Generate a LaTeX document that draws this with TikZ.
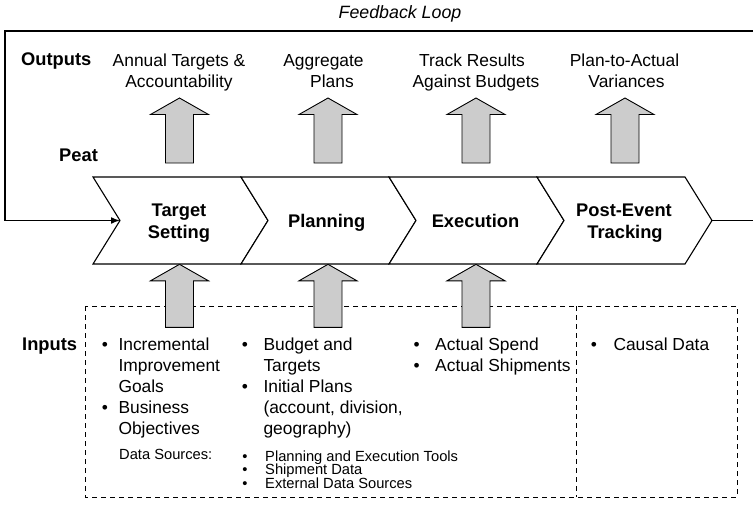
\documentclass[tikz,border=0pt]{standalone}
\usepackage{fontspec}
\setmainfont{Liberation Sans}
\usetikzlibrary{arrows.meta}
\definecolor{arrgray}{HTML}{CCCCCC}
\tikzset{
  txt/.style={inner sep=0pt, font=\fontsize{17.4}{21}\selectfont},
  btxt/.style={inner sep=0pt, font=\fontsize{18.3}{21}\selectfont\bfseries},
  itxt/.style={inner sep=0pt, font=\fontsize{17.8}{21}\selectfont\itshape},
  stxt/.style={inner sep=0pt, font=\fontsize{14.7}{14}\selectfont},
  chev/.style={draw, fill=white, line width=1.1pt, line join=miter},
  loopline/.style={line width=1.6pt},
  dbox/.style={draw, line width=0.9pt, dash pattern=on 5pt off 4pt},
  barrow/.style={draw, line width=0.9pt, fill=arrgray, line join=miter},
}
% block arrow pointing up: x, tip y, bottom y
\newcommand\blkarrow[3]{%
  \draw[barrow] (#1,#2) -- (#1+29,#2+16.5) -- (#1+14,#2+16.5) -- (#1+14,#3)
    -- (#1-14,#3) -- (#1-14,#2+16.5) -- (#1-29,#2+16.5) -- cycle;}
% chevron: name, left x
\newcommand\chevron[2]{%
  \draw[chev] (#2,177) -- (#2+148,177) -- (#2+175,220.5) -- (#2+148,264)
    -- (#2,264) -- (#2+27,220.5) -- cycle;
  \coordinate (#1notch) at (#2+27,220.5);
  \coordinate (#1tip) at (#2+175,220.5);}
\begin{document}
\begin{tikzpicture}[x=1pt,y=-1pt]
\useasboundingbox (0,0) rectangle (753,507);

% inputs dashed box
\draw[dbox] (85,306) rectangle (737,497);
\draw[dbox] (576,306) -- (576,497);

% input arrows
\blkarrow{179.5}{264.3}{327.3}
\blkarrow{328}{264.3}{327.3}
\blkarrow{476}{264.3}{327.3}

% output arrows
\blkarrow{179.5}{98}{163}
\blkarrow{328}{98}{163}
\blkarrow{476}{98}{163}
\blkarrow{625}{98}{163}

% chevrons
\chevron{ca}{93}
\chevron{cb}{241}
\chevron{cc}{389}
\chevron{cd}{537}

% feedback loop
\coordinate (fbR) at (760,220.5);
\coordinate (fbTR) at (760,31);
\coordinate (fbTL) at (5,31);
\coordinate (fbBL) at (5,220.5);
\draw[loopline, line join=miter, -{Latex[length=9pt,width=7pt]}]
  (cdtip) -- (fbR) -- (fbTR) -- (fbTL) -- (fbBL) -- (canotch);
\node[itxt, anchor=base] (fbl) at (400,18.5) {Feedback Loop};

% side labels
\node[btxt, anchor=base west] (outl) at (21,65.5) {Outputs};
\node[btxt, anchor=base west] (peat) at (59,161) {Peat};
\node[btxt, anchor=base west] (inl) at (22,350) {Inputs};

% output texts
\node[txt, anchor=base] (o1a) at (179,66) {Annual Targets \&};
\node[txt, anchor=base] (o1b) at (179,87) {Accountability};
\node[txt, anchor=base] (o2a) at (323.5,66) {Aggregate};
\node[txt, anchor=base] (o2b) at (332,87) {Plans};
\node[txt, anchor=base] (o3a) at (472,66) {Track Results};
\node[txt, anchor=base] (o3b) at (476,87) {Against Budgets};
\node[txt, anchor=base] (o4a) at (624.5,66) {Plan-to-Actual};
\node[txt, anchor=base] (o4b) at (626.5,87) {Variances};

% chevron labels
\node[btxt, anchor=base] (l1a) at (179,216) {Target};
\node[btxt, anchor=base] (l1b) at (179,238) {Setting};
\node[btxt, anchor=base] (l2) at (326.7,227) {Planning};
\node[btxt, anchor=base] (l3) at (475.5,227) {Execution};
\node[btxt, anchor=base] (l4a) at (624,216) {Post-Event};
\node[btxt, anchor=base] (l4b) at (625,238) {Tracking};

% inputs column 1
\node[txt, anchor=base] (b1a) at (105,350) {\textbullet};
\node[txt, anchor=base west] (i1a) at (118.3,350) {Incremental};
\node[txt, anchor=base west] (i1b) at (118.3,371.5) {Improvement};
\node[txt, anchor=base west] (i1c) at (118.3,392.5) {Goals};
\node[txt, anchor=base] (b1b) at (105,413.5) {\textbullet};
\node[txt, anchor=base west] (i1d) at (118.3,413.5) {Business};
\node[txt, anchor=base west] (i1e) at (118.3,434.5) {Objectives};
\node[stxt, anchor=base west] (ds) at (119,459.3) {Data Sources:};

% inputs column 2
\node[txt, anchor=base] (b2a) at (245,350) {\textbullet};
\node[txt, anchor=base west] (i2a) at (263.3,350) {Budget and};
\node[txt, anchor=base west] (i2b) at (263.3,371.5) {Targets};
\node[txt, anchor=base] (b2b) at (245,392.5) {\textbullet};
\node[txt, anchor=base west] (i2c) at (263.3,392.5) {Initial Plans};
\node[txt, anchor=base west] (i2d) at (263.3,413.5) {(account, division,};
\node[txt, anchor=base west] (i2e) at (263.3,434.5) {geography)};
\node[stxt, anchor=base] (sb1) at (245,461.5) {\textbullet};
\node[stxt, anchor=base west] (s1) at (265,461.5) {Planning and Execution Tools};
\node[stxt, anchor=base] (sb2) at (245,474.8) {\textbullet};
\node[stxt, anchor=base west] (s2) at (265,474.8) {Shipment Data};
\node[stxt, anchor=base] (sb3) at (245,488.5) {\textbullet};
\node[stxt, anchor=base west] (s3) at (265,488.5) {External Data Sources};

% inputs column 3
\node[txt, anchor=base] (b3a) at (416.7,350) {\textbullet};
\node[txt, anchor=base west] (i3a) at (435,350) {Actual Spend};
\node[txt, anchor=base] (b3b) at (416.7,371.5) {\textbullet};
\node[txt, anchor=base west] (i3b) at (435,371.5) {Actual Shipments};

% inputs column 4
\node[txt, anchor=base] (b4a) at (594,350) {\textbullet};
\node[txt, anchor=base west] (i4a) at (613.3,350) {Causal Data};
\end{tikzpicture}
\end{document}
